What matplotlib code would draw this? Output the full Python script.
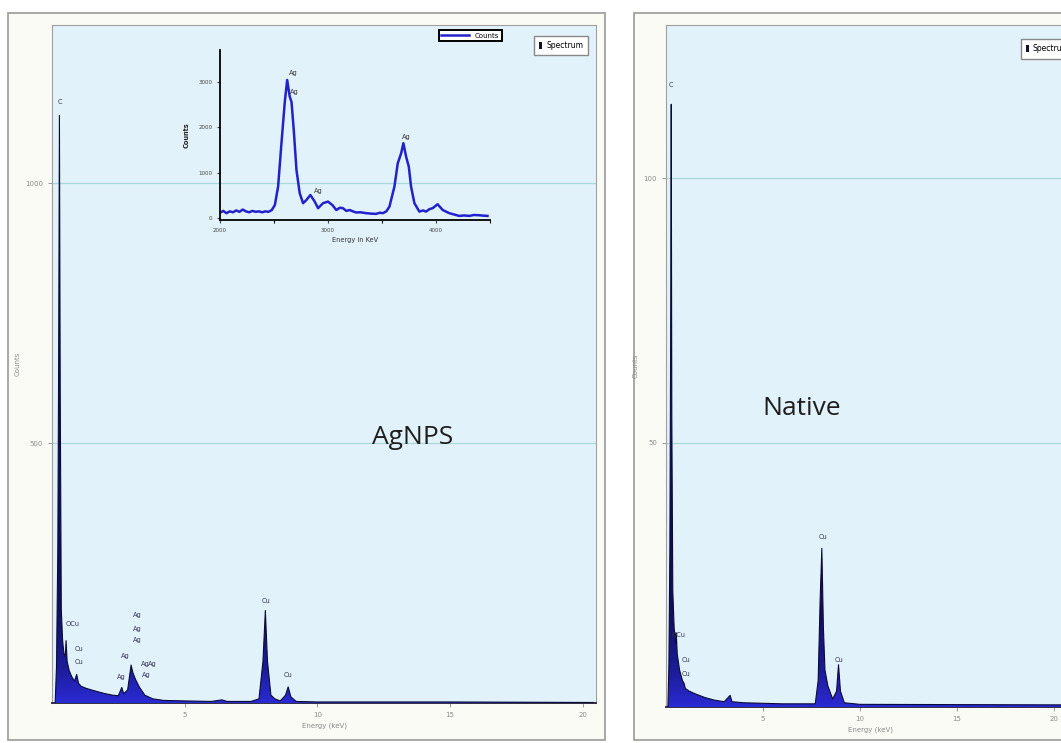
'''
EDX spectra of AgNPS and Native samples, with an inset of the Ag L lines
'''

# Import modules and packages
import numpy as np
from matplotlib import pyplot as plt
from matplotlib.patches import Rectangle, Patch
from matplotlib.colors import LinearSegmentedColormap

# ---- data ----
# AgNPS spectrum (keV, counts)
agnps_kev = [0.12, 0.17, 0.22, 0.25, 0.28, 0.31, 0.35, 0.40, 0.45, 0.50, 0.53, 0.57, 0.65,
             0.75, 0.85, 0.93, 1.00, 1.10, 1.30, 1.50, 1.70, 2.00, 2.30, 2.50, 2.63, 2.70,
             2.85, 2.98, 3.05, 3.15, 3.30, 3.50, 3.80, 4.20, 5.00, 6.00, 6.40, 6.60, 7.50,
             7.80, 7.95, 8.04, 8.12, 8.25, 8.40, 8.60, 8.80, 8.90, 9.00, 9.20, 10.0, 12.0,
             15.0, 20.4]
agnps_counts = [0, 70, 300, 650, 1130, 600, 180, 120, 95, 90, 120, 80, 62,
                50, 42, 55, 38, 32, 28, 25, 22, 18, 15, 14, 30, 18,
                25, 73, 58, 45, 30, 15, 8, 5, 4, 3, 6, 3, 3,
                8, 80, 178, 80, 15, 8, 4, 15, 31, 12, 3, 2, 2,
                2, 1]

# Native spectrum (keV, counts)
native_kev = [0.10, 0.15, 0.20, 0.24, 0.27, 0.30, 0.35, 0.42, 0.50, 0.53, 0.58, 0.70, 0.85,
              0.93, 1.00, 1.20, 1.50, 2.00, 2.50, 3.00, 3.31, 3.40, 4.00, 6.00, 7.70, 7.85,
              7.95, 8.04, 8.12, 8.20, 8.35, 8.60, 8.80, 8.90, 9.00, 9.20, 10.0, 20.4]
native_counts = [0, 8, 30, 70, 114, 55, 22, 15, 12, 14, 10, 7, 5,
                 4.5, 3.5, 3, 2.5, 1.8, 1.3, 1, 2.2, 1, 0.8, 0.6, 0.6, 5,
                 20, 30, 15, 7, 4, 1.5, 3, 8, 3, 0.8, 0.5, 0.4]

# Inset: Ag L region (energy, counts)
inset_energy = [2000, 2030, 2060, 2090, 2120, 2150, 2180, 2210, 2240, 2270, 2300, 2330, 2360,
                2390, 2420, 2450, 2480, 2508, 2538, 2569, 2600, 2622, 2646, 2662, 2683, 2708,
                2738, 2769, 2800, 2837, 2877, 2908, 2954, 3000, 3040, 3077, 3110, 3138, 3170,
                3200, 3230, 3262, 3300, 3354, 3400, 3446, 3480, 3508, 3540, 3569, 3615, 3646,
                3677, 3698, 3723, 3748, 3769, 3800, 3846, 3880, 3908, 3940, 3969, 4015, 4062,
                4123, 4170, 4215, 4260, 4308, 4350, 4400, 4440, 4477]
inset_counts = [120, 160, 110, 150, 130, 170, 140, 190, 150, 130, 160, 140, 150,
                130, 150, 140, 180, 290, 695, 1650, 2560, 3040, 2670, 2560, 1940, 1060,
                550, 330, 400, 510, 365, 220, 330, 365, 290, 180, 230, 220, 160,
                180, 150, 125, 130, 110, 100, 95, 120, 110, 150, 255, 695, 1210,
                1425, 1650, 1355, 1135, 695, 330, 145, 170, 145, 200, 220, 307, 180,
                110, 80, 50, 60, 50, 70, 65, 55, 50]

energy_ticks = [5, 10, 15, 20]
agnps_yticks = [500, 1000]
native_yticks = [50, 100]
inset_xticks = [2000, 3000, 4000]
inset_yticks = [0, 1000, 2000, 3000]

# Element labels (text, keV, counts)
agnps_labels = [('C', 0.30, 1150), ('OCu', 0.78, 146), ('Cu', 1.0, 98), ('Cu', 1.0, 73),
                ('Ag', 3.23, 163), ('Ag', 3.23, 137), ('Ag', 3.20, 115), ('Ag', 2.78, 85),
                ('Ag', 2.63, 44), ('Ag', 3.50, 69), ('Ag', 3.78, 69), ('Ag', 3.55, 48),
                ('Cu', 8.06, 190), ('Cu', 8.89, 48)]
native_labels = [('C', 0.26, 117), ('OCu', 0.67, 13), ('Cu', 1.03, 8.3), ('Cu', 1.03, 5.7),
                 ('Cu', 8.10, 31.5), ('Cu', 8.90, 8.3)]
inset_labels = [('Ag', 2677, 3190), ('Ag', 2690, 2780), ('Ag', 2908, 590), ('Ag', 3723, 1790)]

W, H = 1061, 743
BLUE_BG = '#e2f2fa'
FRAME_BG = '#fbfbf6'
GRID_C = '#a9d9dc'
EDGE_C = '#0b0b3a'
TICK_C = '#8a8a8a'

# Spectrum fill: bright blue at the base, dark navy higher up
spec_cmap = LinearSegmentedColormap.from_list(
	'spec', [(0, '#2a2ad2'), (0.05, '#1c1c9a'), (0.14, '#10105a'), (1, '#0a0a3c')])


# Convert pixel box to figure fraction
def px_box(x0, y0, x1, y1):
	return [x0 / W, 1 - y1 / H, (x1 - x0) / W, (y1 - y0) / H]


# Draw one EDX panel
def draw_panel(ax, kev, counts, ylim, yticks, labels, name, name_xy, xlim):
	ax.set_facecolor(BLUE_BG)
	poly = ax.fill_between(kev, counts, 0, color='none', linewidth=0, zorder=3)
	grad = np.linspace(0, 1, 256).reshape(-1, 1)
	im = ax.imshow(grad, extent=[xlim[0], xlim[1], ylim[0], ylim[1]], origin='lower',
				   aspect='auto', cmap=spec_cmap, zorder=3)
	im.set_clip_path(poly.get_paths()[0], transform=ax.transData)
	ax.plot(kev, counts, color=EDGE_C, linewidth=0.8, zorder=4)
	for yv in yticks:
		ax.axhline(yv, color=GRID_C, linewidth=0.9, zorder=1)
	ax.set_xlim(*xlim)
	ax.set_ylim(*ylim)
	ax.set_xticks(energy_ticks)
	ax.set_yticks(yticks)
	ax.tick_params(axis='both', labelsize=5, colors=TICK_C, length=3, width=0.6)
	for s in ['top', 'right', 'left']:
		ax.spines[s].set_color('#a0a0a0')
		ax.spines[s].set_linewidth(0.8)
	ax.spines['bottom'].set_color('#303040')
	ax.spines['bottom'].set_linewidth(1.4)
	for txt, xv, yv in labels:
		ax.text(xv, yv, txt, fontsize=4.8, color='#333355', ha='center', va='bottom', zorder=5)
	ax.text(name_xy[0], name_xy[1], name, transform=ax.transAxes, fontsize=19,
			family='Open Sans', color='#1e1e1e', ha='center', va='center', zorder=6)
	ax.legend(handles=[Patch(facecolor='#101030', edgecolor='none')], labels=['Spectrum'],
			  loc='upper right', fontsize=5.5, handlelength=0.4, handleheight=1.0,
			  borderpad=0.7, handletextpad=0.5, framealpha=1, edgecolor='#888888', fancybox=False)
	ax.set_xlabel('Energy (keV)', fontsize=5, color=TICK_C, labelpad=3)
	ax.set_ylabel('Counts', fontsize=5, color=TICK_C)


fig = plt.figure(figsize=(W / 100, H / 100), dpi=100)
fig.patch.set_facecolor('white')

# Outer frames of both panels (behind the axes)
fig.patches.append(Rectangle((8 / W, 1 - 740 / H), 597 / W, 727 / H, transform=fig.transFigure,
							 facecolor=FRAME_BG, edgecolor='#9a9a9a', linewidth=1.2, zorder=-10))
fig.patches.append(Rectangle((634 / W, 1 - 740 / H), 460 / W, 727 / H, transform=fig.transFigure,
							 facecolor=FRAME_BG, edgecolor='#9a9a9a', linewidth=1.2, zorder=-10))

# Left panel: AgNPS
ax1 = fig.add_axes(px_box(52, 25, 596, 703))
draw_panel(ax1, agnps_kev, agnps_counts, (0, 1304), agnps_yticks, agnps_labels,
		   'AgNPS', (0.662, 0.391), (0, 20.5))
ax1.yaxis.set_label_coords(-0.058, 0.5)
ax1.get_legend().set_bbox_to_anchor((0.993, 0.99))

# Right panel: Native
ax2 = fig.add_axes(px_box(666, 25, 1075, 707))
draw_panel(ax2, native_kev, native_counts, (0, 129), native_yticks, native_labels,
		   'Native', (0.332, 0.437), (0, 21.1))
ax2.yaxis.set_label_coords(-0.068, 0.5)
ax2.get_legend().set_bbox_to_anchor((1.01, 0.985))

# Inset with Ag L lines
ins = fig.add_axes(px_box(220, 50, 490, 220))
ins.patch.set_alpha(0)
ins.plot(inset_energy, inset_counts, color='#2222cc', linewidth=1.8, label='Counts')
ins.set_xlim(2000, 4500)
ins.set_ylim(-40, 3700)
ins.set_xticks(inset_xticks)
ins.set_xticks([2500, 3500, 4500], minor=True)
ins.set_yticks(inset_yticks)
ins.tick_params(axis='both', labelsize=4, colors='#444444', length=2, width=0.8)
ins.tick_params(which='minor', length=2, width=0.8)
for s in ['top', 'right']:
	ins.spines[s].set_visible(False)
for s in ['left', 'bottom']:
	ins.spines[s].set_linewidth(1.3)
ins.set_xlabel('Energy in KeV', fontsize=4.8, color='#333333', labelpad=3)
ins.set_ylabel('Counts', fontsize=4.8, color='#222222', labelpad=6, fontweight='bold')
for txt, xv, yv in inset_labels:
	ins.text(xv, yv, txt, fontsize=4.8, color='#333333', ha='center', va='center')
ins.legend(loc='upper right', bbox_to_anchor=(505 / W, 1 - 27 / H), bbox_transform=fig.transFigure,
		   fontsize=5, handlelength=4, framealpha=1, edgecolor='black', fancybox=False,
		   borderpad=0.35).get_frame().set_linewidth(1.4)

plt.savefig('out.png', dpi=100)
